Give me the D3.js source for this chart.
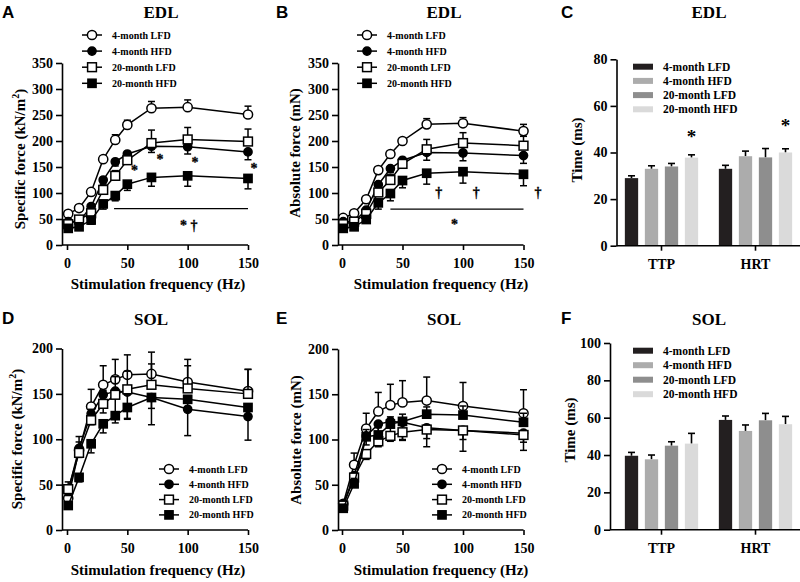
<!DOCTYPE html>
<html>
<head>
<meta charset="utf-8">
<script src="https://cdn.jsdelivr.net/npm/d3@7"></script>
<style>
  body { margin: 0; background: #fff; }
  svg text { font-family: "Liberation Serif", "Times New Roman", Times, "DejaVu Serif", serif; font-weight: bold; fill: #000; }
  svg text.letter { font-family: "Liberation Sans", Arial, Helvetica, sans-serif; font-size: 17px; }
  svg text.title { font-size: 17px; }
  svg text.tick-label { font-size: 14px; }
  svg text.axis-title { font-size: 15px; }
  svg text.legend { font-size: 10px; }
  svg text.bar-legend { font-size: 11.5px; }
  svg text.mark { font-size: 14px; stroke: #000; stroke-width: 0.3px; }
</style>
</head>
<body>
<svg width="800" height="582"></svg>
<script>
const groups = ['4-month LFD', '4-month HFD', '20-month LFD', '20-month HFD'];
const symbols = ['openCircle', 'filledCircle', 'openSquare', 'filledSquare'];
const freqHz = [1, 10, 20, 30, 40, 50, 70, 100, 150];
const twitchParams = ['TTP', 'HRT'];
const barColors = ['#231f20', '#acacac', '#8e8e8e', '#dadada'];

// A - EDL specific force (kN/m2), one row per group
const edlSpecificMean = [
  [60, 71, 102, 165, 202, 231, 263, 265, 251],
  [45, 45, 74, 125, 160, 175, 190, 189, 179],
  [40, 49, 61, 106, 133, 163, 196, 203, 199],
  [32, 35, 48, 79, 95, 117, 130, 133, 128]
];
const edlSpecificSem = [
  [4, 4, 5, 6, 10, 9, 13, 14, 16],
  [4, 5, 6, 8, 8, 10, 12, 14, 15],
  [5, 5, 6, 8, 10, 8, 25, 23, 24],
  [4, 5, 8, 10, 10, 12, 17, 20, 20]
];

// B - EDL absolute force (mN)
const edlAbsoluteMean = [
  [52, 61, 88, 144, 175, 200, 232, 234, 219],
  [45, 45, 67, 116, 147, 163, 178, 177, 172],
  [40, 45, 60, 101, 125, 156, 184, 196, 191],
  [32, 35, 49, 81, 99, 124, 138, 141, 136]
];
const edlAbsoluteSem = [
  [3, 4, 5, 6, 6, 6, 11, 11, 13],
  [4, 5, 6, 8, 8, 10, 15, 15, 15],
  [4, 5, 6, 8, 10, 10, 19, 20, 18],
  [4, 5, 6, 12, 14, 14, 21, 22, 22]
];

// D - SOL specific force (kN/m2)
const solSpecificMean = [
  [35, 88, 136, 160, 166, 171, 172, 163, 153],
  [43, 90, 128, 149, 153, 152, 146, 133, 125],
  [45, 85, 121, 139, 149, 155, 160, 156, 150],
  [27, 58, 95, 117, 126, 135, 146, 144, 135]
];
const solSpecificSem = [
  [5, 15, 19, 21, 22, 22, 24, 25, 24],
  [5, 10, 12, 20, 30, 30, 30, 29, 26],
  [8, 12, 12, 15, 20, 20, 23, 25, 27],
  [3, 5, 10, 10, 8, 12, 12, 10, 10]
];

// E - SOL absolute force (mN)
const solAbsoluteMean = [
  [29, 72, 112, 131, 138, 141, 143, 137, 129],
  [28, 60, 104, 117, 120, 119, 113, 110, 107],
  [27, 58, 84, 98, 104, 108, 111, 110, 105],
  [24, 51, 103, 105, 117, 120, 128, 127, 119]
];
const solAbsoluteSem = [
  [2, 13, 17, 21, 23, 24, 26, 26, 26],
  [3, 8, 10, 12, 14, 20, 21, 23, 19],
  [3, 5, 6, 6, 6, 8, 10, 10, 8],
  [3, 6, 8, 8, 8, 8, 8, 10, 10]
];

// C / F - twitch times (ms), one row per group: [TTP, HRT]
const edlTimeMean = [[29, 33], [33, 38.4], [34, 37.9], [37.8, 40]];
const edlTimeSem = [[1, 1.5], [1.3, 2.2], [1.3, 3.8], [1.2, 1.6]];
const solTimeMean = [[39.6, 58.8], [37.7, 52.9], [45, 58.6], [46.1, 56.5]];
const solTimeSem = [[1.8, 2.1], [2.3, 3.2], [2.1, 3.7], [5.5, 4.2]];

// significance marks (frequency, value)
const edlSpecificMarks = [
  { f: 56, v: 148, t: '*' }, { f: 77, v: 169, t: '*' },
  { f: 106, v: 163, t: '*' }, { f: 155, v: 152, t: '*' },
  { f: 101, v: 42, t: '* †' }
];
const edlAbsoluteMarks = [
  { f: 80, v: 106, t: '†' }, { f: 111, v: 106, t: '†' },
  { f: 162, v: 106, t: '†' }, { f: 93, v: 45, t: '*' }
];
const edlTimeStars = [{ p: 'TTP', v: 48 }, { p: 'HRT', v: 53 }];

const svg = d3.select('svg');
const black = '#000';

const styleAxis = g => {
  g.attr('font-family', null).attr('font-size', null);
  g.selectAll('path, line').attr('stroke', black).attr('stroke-width', 1.6);
  g.selectAll('text').attr('class', 'tick-label');
};

const drawMarker = (g, kind, cx, cy) => {
  if (kind === 'openCircle' || kind === 'filledCircle') {
    g.append('circle')
      .attr('cx', cx).attr('cy', cy)
      .attr('r', kind === 'openCircle' ? 4.6 : 4.1)
      .attr('fill', kind === 'openCircle' ? '#fff' : black)
      .attr('stroke', black).attr('stroke-width', 1.5);
  } else {
    const s = kind === 'openSquare' ? 8.8 : 8.2;
    g.append('rect')
      .attr('x', cx - s / 2).attr('y', cy - s / 2)
      .attr('width', s).attr('height', s)
      .attr('fill', kind === 'openSquare' ? '#fff' : black)
      .attr('stroke', black).attr('stroke-width', 1.5);
  }
};

const panelHeader = (p) => {
  svg.append('text').attr('class', 'letter').attr('x', p.letterX).attr('y', p.letterY).text(p.letter);
  svg.append('text').attr('class', 'title').attr('text-anchor', 'middle')
    .attr('x', p.titleX).attr('y', p.titleY).text(p.title);
};

const yTitle = (text, cx, cy, sup) => {
  const t = svg.append('text').attr('class', 'axis-title').attr('text-anchor', 'middle')
    .attr('transform', `translate(${cx + 5},${cy}) rotate(-90)`);
  if (sup) {
    t.append('tspan').text(text);
    t.append('tspan').attr('font-size', '10px').attr('dy', -6).text('2');
    t.append('tspan').attr('dy', 6).text(')');
  } else {
    t.text(text);
  }
};

const forcePanel = (p) => {
  panelHeader(p);
  const x = d3.scaleLinear().domain([0, 150]).range(p.xRange);
  const y = d3.scaleLinear().domain([0, p.yMax]).range(p.yRange);
  const g = svg.append('g');

  g.append('g')
    .attr('transform', `translate(${p.axisX},0)`)
    .call(d3.axisLeft(y).tickValues(d3.range(0, p.yMax + 1, 50)).tickSize(6).tickSizeOuter(0).tickPadding(3))
    .call(styleAxis);

  const xg = g.append('g')
    .attr('transform', `translate(0,${p.yRange[0]})`)
    .call(d3.axisBottom(x).tickValues([0, 50, 100, 150]).tickSize(5).tickPadding(8))
    .call(styleAxis);
  xg.select('.domain').remove();
  xg.append('line').attr('x1', p.axisX).attr('x2', x(150))
    .attr('stroke', black).attr('stroke-width', 1.6);

  yTitle(p.yTitle, p.yTitleX, p.yTitleY, p.sup);
  svg.append('text').attr('class', 'axis-title').attr('text-anchor', 'middle')
    .attr('x', p.xTitleX).attr('y', p.xTitleY).text('Stimulation frequency (Hz)');

  const line = d3.line().x((d, i) => x(freqHz[i])).y(d => y(d));

  p.means.forEach((series, s) => {
    const sg = g.append('g');
    const dir = p.dirs[s];
    series.forEach((m, i) => {
      const cx = x(freqHz[i]);
      const yEnd = y(m + dir * p.sems[s][i]);
      sg.append('line').attr('x1', cx).attr('x2', cx).attr('y1', y(m)).attr('y2', yEnd)
        .attr('stroke', black).attr('stroke-width', 1.5);
      sg.append('line').attr('x1', cx - 3.5).attr('x2', cx + 3.5).attr('y1', yEnd).attr('y2', yEnd)
        .attr('stroke', black).attr('stroke-width', 1.5);
    });
    sg.append('path').datum(series).attr('d', line)
      .attr('fill', 'none').attr('stroke', black).attr('stroke-width', 1.5);
    series.forEach((m, i) => drawMarker(sg, symbols[s], x(freqHz[i]), y(m)));
  });

  // legend
  const lg = svg.append('g');
  groups.forEach((name, i) => {
    const cy = p.legendY + i * p.legendStep;
    lg.append('line').attr('x1', p.legendX - 10).attr('x2', p.legendX + 10)
      .attr('y1', cy).attr('y2', cy).attr('stroke', black).attr('stroke-width', 1.5);
    drawMarker(lg, symbols[i], p.legendX, cy);
    lg.append('text').attr('class', 'legend').attr('x', p.legendX + 20).attr('y', cy + 3.5).text(name);
  });

  // significance
  if (p.marks) {
    p.marks.forEach(d => {
      svg.append('text').attr('class', 'mark').attr('text-anchor', 'middle')
        .attr('x', x(d.f)).attr('y', y(d.v)).attr('dy', '0.5em').text(d.t);
    });
  }
  if (p.sigLine) {
    svg.append('line').attr('x1', x(p.sigLine.from)).attr('x2', x(p.sigLine.to))
      .attr('y1', y(p.sigLine.v)).attr('y2', y(p.sigLine.v))
      .attr('stroke', black).attr('stroke-width', 1.2);
  }
};

const timePanel = (p) => {
  panelHeader(p);
  const x = d3.scaleBand().domain(twitchParams).range([614.5, 802.5]);
  const xi = d3.scaleBand().domain(d3.range(groups.length)).range([0, 80])
    .paddingInner(0.335).paddingOuter(0.1675);
  const y = d3.scaleLinear().domain([0, p.yMax]).range(p.yRange);
  const g = svg.append('g');
  const barX = (param, s) => x(param) + x.bandwidth() / 2 - 40 + xi(s);

  p.means.forEach((vals, s) => {
    twitchParams.forEach((param, j) => {
      const bx = barX(param, s);
      const top = y(vals[j] + p.sems[s][j]);
      const cx = bx + xi.bandwidth() / 2;
      g.append('line').attr('x1', cx).attr('x2', cx).attr('y1', y(vals[j])).attr('y2', top)
        .attr('stroke', black).attr('stroke-width', 1.6);
      g.append('line').attr('x1', cx - 3.5).attr('x2', cx + 3.5).attr('y1', top).attr('y2', top)
        .attr('stroke', black).attr('stroke-width', 1.6);
      g.append('rect').attr('x', bx).attr('y', y(vals[j]))
        .attr('width', xi.bandwidth()).attr('height', y(0) - y(vals[j]))
        .attr('fill', barColors[s]);
    });
  });

  g.append('g')
    .attr('transform', `translate(${p.axisX},0)`)
    .call(d3.axisLeft(y).tickValues(d3.range(0, p.yMax + 1, 20)).tickSize(6).tickSizeOuter(0).tickPadding(3))
    .call(styleAxis);

  const xg = g.append('g')
    .attr('transform', `translate(0,${p.yRange[0]})`)
    .call(d3.axisBottom(x).tickSize(5).tickPadding(8))
    .call(styleAxis);
  xg.select('.domain').remove();
  xg.append('line').attr('x1', p.axisX).attr('x2', 800)
    .attr('stroke', black).attr('stroke-width', 1.6);

  yTitle('Time (ms)', p.yTitleX, p.yTitleY, false);

  groups.forEach((name, i) => {
    const cy = p.legendY + i * p.legendStep;
    svg.append('rect').attr('x', 633).attr('y', cy - 3).attr('width', 20).attr('height', 6)
      .attr('fill', barColors[i]);
    svg.append('text').attr('class', 'bar-legend').attr('x', 663).attr('y', cy + 4).text(name);
  });

  if (p.stars) {
    p.stars.forEach(d => {
      svg.append('text').attr('text-anchor', 'middle').style('font-size', '19px')
        .attr('x', barX(d.p, 3) + xi.bandwidth() / 2).attr('y', y(d.v)).attr('dy', '0.5em').text('*');
    });
  }
};

forcePanel({
  letter: 'A', letterX: 2, letterY: 18, title: 'EDL', titleX: 161, titleY: 18,
  xRange: [67, 248], axisX: 62, yMax: 350, yRange: [245, 63],
  means: edlSpecificMean, sems: edlSpecificSem, dirs: [1, -1, 1, -1],
  yTitle: 'Specific force (kN/m', sup: true, yTitleX: 20, yTitleY: 159,
  xTitleX: 158, xTitleY: 289,
  legendX: 92, legendY: 35, legendStep: 16.1,
  marks: edlSpecificMarks, sigLine: { from: 39, to: 150, v: 70 }
});

forcePanel({
  letter: 'B', letterX: 276, letterY: 18, title: 'EDL', titleX: 444, titleY: 18,
  xRange: [342, 523.5], axisX: 338, yMax: 350, yRange: [245, 63],
  means: edlAbsoluteMean, sems: edlAbsoluteSem, dirs: [1, -1, 1, -1],
  yTitle: 'Absolute force (mN)', sup: false, yTitleX: 295, yTitleY: 153,
  xTitleX: 441, xTitleY: 289,
  legendX: 367, legendY: 35, legendStep: 16.1,
  marks: edlAbsoluteMarks, sigLine: { from: 40, to: 150, v: 69 }
});

forcePanel({
  letter: 'D', letterX: 2, letterY: 324, title: 'SOL', titleX: 151, titleY: 325,
  xRange: [67, 248], axisX: 62, yMax: 200, yRange: [530, 348.5],
  means: solSpecificMean, sems: solSpecificSem, dirs: [1, -1, 1, -1],
  yTitle: 'Specific force (kN/m', sup: true, yTitleX: 17, yTitleY: 439,
  xTitleX: 158, xTitleY: 575,
  legendX: 169, legendY: 469, legendStep: 15.3
});

forcePanel({
  letter: 'E', letterX: 276, letterY: 324, title: 'SOL', titleX: 444, titleY: 325,
  xRange: [342, 523.5], axisX: 338, yMax: 200, yRange: [530, 349],
  means: solAbsoluteMean, sems: solAbsoluteSem, dirs: [1, -1, -1, 1],
  yTitle: 'Absolute force (mN)', sup: false, yTitleX: 296, yTitleY: 440,
  xTitleX: 441, xTitleY: 575,
  legendX: 442, legendY: 469, legendStep: 15.3
});

timePanel({
  letter: 'C', letterX: 561, letterY: 18, title: 'EDL', titleX: 709, titleY: 18,
  yMax: 80, yRange: [245.7, 59.3], axisX: 616.5,
  means: edlTimeMean, sems: edlTimeSem, stars: edlTimeStars,
  yTitleX: 577, yTitleY: 150,
  legendY: 66.7, legendStep: 14.2
});

timePanel({
  letter: 'F', letterX: 561, letterY: 324, title: 'SOL', titleX: 709, titleY: 325,
  yMax: 100, yRange: [529.7, 343], axisX: 610,
  means: solTimeMean, sems: solTimeSem,
  yTitleX: 570, yTitleY: 430,
  legendY: 350.7, legendStep: 14.5
});
</script>
</body>
</html>
